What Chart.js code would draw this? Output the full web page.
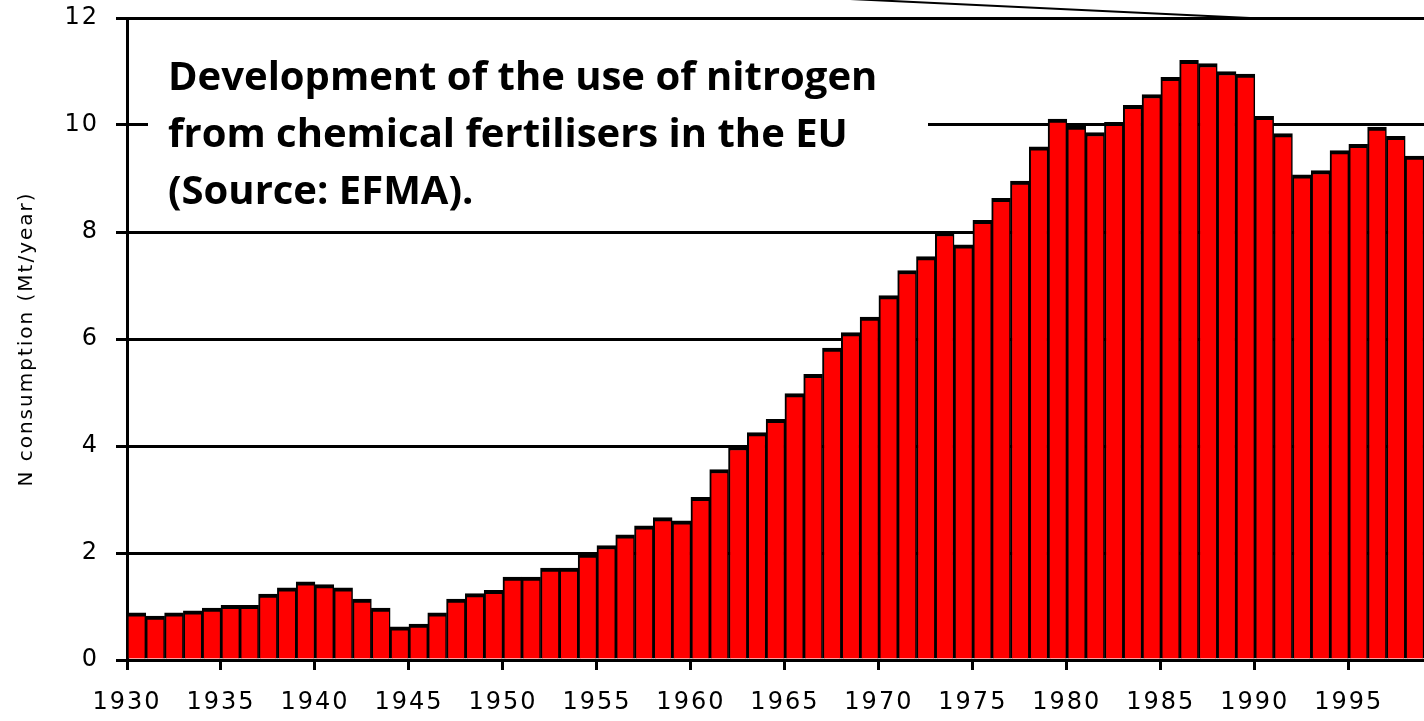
<!DOCTYPE html>
<html>
<head>
<meta charset="utf-8">
<script src="https://cdn.jsdelivr.net/npm/chart.js@4.4.1/dist/chart.umd.min.js"></script>
<style>
  html, body { margin: 0; padding: 0; background: #fff; }
  #wrap { width: 1424px; height: 721px; }
</style>
</head>
<body>
<div id="wrap"><canvas id="chart" width="1424" height="721"></canvas></div>
<script>
// N consumption from chemical fertilisers in the EU, Mt/year
const years = [
  1930, 1931, 1932, 1933, 1934, 1935, 1936, 1937, 1938, 1939,
  1940, 1941, 1942, 1943, 1944, 1945, 1946, 1947, 1948, 1949,
  1950, 1951, 1952, 1953, 1954, 1955, 1956, 1957, 1958, 1959,
  1960, 1961, 1962, 1963, 1964, 1965, 1966, 1967, 1968, 1969,
  1970, 1971, 1972, 1973, 1974, 1975, 1976, 1977, 1978, 1979,
  1980, 1981, 1982, 1983, 1984, 1985, 1986, 1987, 1988, 1989,
  1990, 1991, 1992, 1993, 1994, 1995, 1996, 1997, 1998
];
const consumption = [
  0.88, 0.82, 0.88, 0.92, 0.97, 1.02, 1.02, 1.23, 1.35, 1.46,
  1.41, 1.35, 1.14, 0.97, 0.62, 0.67, 0.88, 1.14, 1.24, 1.30,
  1.55, 1.55, 1.72, 1.72, 1.98, 2.14, 2.34, 2.51, 2.66, 2.60,
  3.04, 3.56, 3.99, 4.25, 4.50, 4.98, 5.34, 5.83, 6.12, 6.41,
  6.81, 7.28, 7.54, 7.99, 7.76, 8.22, 8.63, 8.95, 9.59, 10.11,
  9.98, 9.86, 10.05, 10.37, 10.57, 10.89, 11.21, 11.15, 11.00, 10.95,
  10.16, 9.84, 9.07, 9.15, 9.52, 9.64, 9.96, 9.79, 9.42
];
const xTicks = [1930, 1935, 1940, 1945, 1950, 1955, 1960, 1965, 1970, 1975, 1980, 1985, 1990, 1995];
const yTicks = [0, 2, 4, 6, 8, 10, 12];
const captionLines = [
  'Development of the use of nitrogen',
  'from chemical fertilisers in the EU',
  '(Source: EFMA).'
];

// each bar sits between its year and the next one, ticks fall on the left edges
const points = years.map((y, i) => ({ x: y + 0.5, y: consumption[i] }));

const pixelFont = 'DejaVu Sans';

const spacing = {
  id: 'spacing',
  beforeDraw(chart) {
    chart.ctx.letterSpacing = '2px';
  }
};

// white box of the text frame hides part of the 10 gridline
const textBox = {
  id: 'textBox',
  beforeDatasetsDraw(chart) {
    const c = chart.ctx;
    c.save();
    c.fillStyle = '#fff';
    c.fillRect(148, 32, 780, 188);
    c.restore();
  },
  afterDraw(chart) {
    const c = chart.ctx;
    c.save();
    c.letterSpacing = '0px';
    c.fillStyle = '#000';
    c.font = 'bold 40px "Open Sans"';
    c.textBaseline = 'alphabetic';
    const base = [90, 147, 204];
    captionLines.forEach((t, i) => c.fillText(t, 168, base[i]));
    // stray connector line at the top
    c.strokeStyle = '#000';
    c.lineWidth = 2;
    c.beginPath();
    c.moveTo(850, -1);
    c.lineTo(1250, 18);
    c.stroke();
    c.restore();
  }
};

const noPad = s => { s.paddingTop = 0; s.paddingBottom = 0; s.paddingLeft = 0; s.paddingRight = 0; };

new Chart(document.getElementById('chart').getContext('2d'), {
  type: 'bar',
  data: {
    datasets: [{
      data: points,
      backgroundColor: '#ff0000',
      borderColor: '#000',
      borderWidth: { top: 4, left: 2, right: 1.5, bottom: 0 },
      borderSkipped: 'bottom',
      barPercentage: 1,
      categoryPercentage: 1
    }]
  },
  options: {
    responsive: false,
    animation: false,
    devicePixelRatio: 1,
    layout: { padding: { top: 18, right: 0, bottom: 0, left: 0 } },
    plugins: { legend: { display: false }, tooltip: { enabled: false } },
    scales: {
      x: {
        type: 'linear',
        min: 1930,
        max: 1999,
        offset: false,
        afterBuildTicks: s => { s.ticks = xTicks.map(v => ({ value: v })); },
        afterFit: s => { s.height = 61; noPad(s); },
        grid: { drawOnChartArea: false, offset: false, color: '#000', lineWidth: 3, tickLength: 10, tickWidth: 3, tickColor: '#000' },
        border: { display: true, color: '#000', width: 3 },
        ticks: {
          autoSkip: false, maxRotation: 0, padding: 18, color: '#000',
          font: { family: pixelFont, size: 24 },
          callback: v => String(v)
        }
      },
      y: {
        min: 0,
        max: 12,
        afterBuildTicks: s => { s.ticks = yTicks.map(v => ({ value: v })); },
        afterFit: s => { s.width = 127; noPad(s); },
        grid: { color: '#000', lineWidth: 3, tickLength: 11 },
        border: { display: true, color: '#000', width: 3 },
        ticks: { padding: 17, color: '#000', font: { family: pixelFont, size: 24 } },
        title: {
          display: true,
          text: 'N consumption (Mt/year)',
          color: '#000',
          font: { family: pixelFont, size: 20 },
          padding: { top: 15, bottom: 0 }
        }
      }
    }
  },
  plugins: [spacing, textBox]
});
</script>
</body>
</html>
